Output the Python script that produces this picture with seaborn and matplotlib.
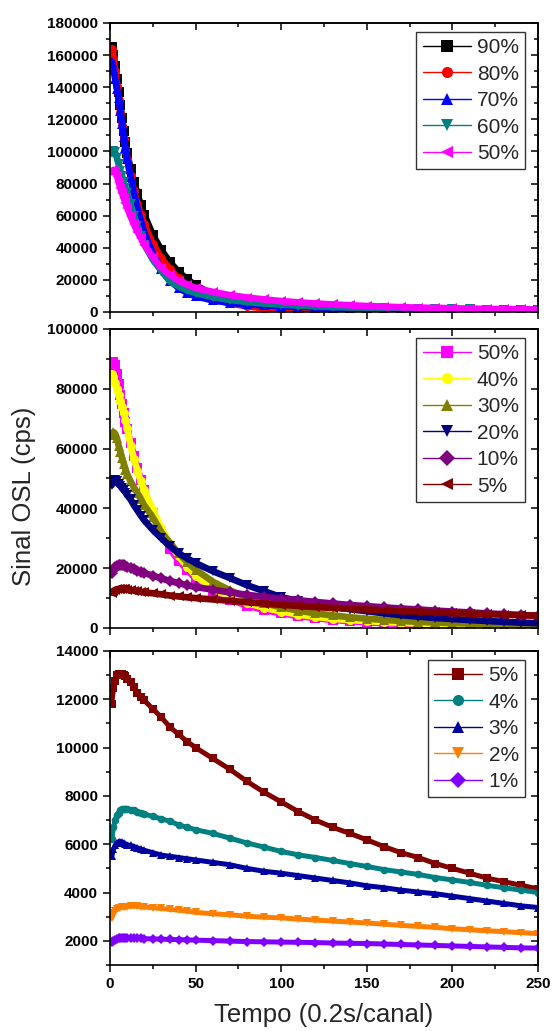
import numpy as np
import pandas as pd
import seaborn as sns
import matplotlib.pyplot as plt
from matplotlib.lines import Line2D
from matplotlib.ticker import MultipleLocator

# channel numbers the curves were read at
CH = [1, 2, 3, 4, 5, 6, 7, 8, 9, 10, 12, 14, 16, 18, 20, 25, 30, 35, 40, 45, 50,
      60, 70, 80, 90, 100, 110, 120, 130, 140, 150, 160, 170, 180, 190, 200,
      210, 220, 230, 240, 250]

# --- top panel: 90% .. 50%
p1_90 = [165000, 160000, 153000, 145000, 137000, 129000, 121000, 113000, 106000, 99000,
         89000, 81000, 73500, 66500, 60500, 48000, 38500, 31000, 25000, 20500, 16500,
         11000, 7500, 5200, 3800, 2900, 2300, 1900, 1700, 1500, 1400, 1300, 1250, 1200,
         1150, 1100, 1100, 1050, 1050, 1000, 1000]
p1_80 = [164000, 158000, 150000, 141000, 132000, 124000, 116000, 108000, 101000, 95000,
         84500, 75500, 67500, 60500, 54500, 42500, 33500, 26500, 21000, 16500, 13000,
         8200, 5300, 3500, 2300, 1600, 1100, 900, 750, 700, 650, 650, 650, 650,
         650, 650, 650, 650, 650, 650, 650]
p1_70 = [156000, 151000, 145000, 139000, 133000, 125000, 117000, 109000, 102000, 95500,
         84000, 73500, 64500, 56500, 49500, 36500, 26500, 19500, 15000, 12000, 9800,
         7200, 5700, 4800, 4200, 3700, 3300, 2900, 2600, 2300, 2100, 1900, 1750, 1600,
         1500, 1400, 1350, 1300, 1250, 1200, 1200]
p1_60 = [99000, 100000, 99500, 96000, 92000, 88000, 84500, 81000, 77500, 74000,
         67000, 60000, 53500, 47500, 42000, 32500, 25500, 19000, 16000, 13500, 11800,
         9200, 7500, 6300, 5300, 4600, 4000, 3500, 3100, 2800, 2500, 2300, 2100, 1950,
         1800, 1700, 1600, 1500, 1450, 1400, 1350]
p1_50 = [87000, 88500, 88000, 85000, 81000, 77500, 74000, 71000, 68000, 65000,
         59500, 54500, 50000, 46000, 42000, 34000, 27500, 23000, 19500, 17000, 15000,
         12500, 10500, 9000, 7800, 6800, 6000, 5300, 4700, 4200, 3700, 3300, 3000, 2700,
         2500, 2300, 2100, 1900, 1800, 1650, 1500]

# --- middle panel: 50% .. 5%
p2_50 = [87000, 89000, 88000, 85000, 81500, 78000, 75000, 72000, 69000, 66500,
         62000, 57500, 53500, 49500, 46000, 38500, 32000, 26500, 22500, 19500, 16500,
         12500, 9500, 7500, 6000, 4900, 4000, 3300, 2700, 2300, 1900, 1600, 1400, 1200,
         1050, 950, 850, 800, 750, 700, 650]
p2_40 = [85000, 84000, 82000, 80000, 78000, 76000, 74000, 72000, 69500, 67000,
         61000, 56500, 52500, 49000, 46000, 39500, 33500, 28000, 24000, 20500, 17500,
         13000, 10300, 8300, 6800, 5500, 4500, 3700, 3100, 2700, 2300, 2000, 1700, 1500,
         1300, 1150, 1050, 950, 900, 850, 800]
p2_30 = [64500, 65500, 65000, 63500, 61000, 59000, 57000, 55000, 53000, 51500,
         49000, 47000, 45000, 43000, 41000, 37000, 32000, 28500, 25000, 22000, 19500,
         15500, 12600, 10200, 8300, 6900, 5800, 4900, 4200, 3600, 3100, 2700, 2350, 2050,
         1850, 1650, 1500, 1350, 1250, 1150, 1050]
p2_20 = [47800, 49000, 49500, 49000, 48000, 47500, 46800, 46000, 45300, 44500,
         43000, 41000, 39300, 37600, 36000, 32800, 30000, 27300, 25000, 23300, 21700,
         19000, 16700, 14300, 12300, 10300, 9000, 8000, 7100, 6300, 5600, 4900, 4300, 3800,
         3350, 3000, 2650, 2350, 2050, 1800, 1600]
p2_10 = [18300, 19500, 20300, 20700, 20900, 21000, 21000, 20900, 20700, 20500,
         20200, 19700, 19200, 18800, 18400, 17500, 16600, 15700, 15000, 14300, 13700,
         12800, 11900, 11100, 10400, 9800, 9300, 8700, 8200, 7700, 7300, 6900, 6500, 6200,
         5800, 5500, 5200, 4900, 4600, 4300, 4100]

# --- bottom panel: 5% .. 1%
p3_5 = [11800, 12450, 12750, 13000, 13050, 13050, 13050, 13000, 12950, 12850,
        12700, 12500, 12250, 12100, 11950, 11600, 11250, 10850, 10550, 10250, 10000,
        9550, 9100, 8600, 8150, 7750, 7350, 7000, 6700, 6450, 6180, 5900, 5650, 5450,
        5200, 5000, 4800, 4600, 4450, 4300, 4150]
p3_4 = [6200, 6700, 7000, 7200, 7300, 7400, 7450, 7450, 7450, 7450,
        7420, 7400, 7350, 7300, 7250, 7150, 7050, 6950, 6800, 6700, 6600,
        6450, 6250, 6050, 5880, 5700, 5560, 5450, 5330, 5200, 5080, 4950, 4850, 4750,
        4620, 4520, 4420, 4300, 4200, 4100, 4000]
p3_3 = [5500, 5800, 5950, 6050, 6100, 6100, 6080, 6050, 6000, 5980,
        5950, 5900, 5850, 5800, 5750, 5650, 5550, 5500, 5450, 5400, 5350,
        5250, 5150, 5000, 4880, 4800, 4700, 4600, 4500, 4400, 4280, 4200, 4100, 4020,
        3950, 3850, 3750, 3650, 3550, 3450, 3380]
p3_2 = [2950, 3150, 3250, 3300, 3350, 3380, 3400, 3400, 3420, 3420,
        3430, 3440, 3430, 3420, 3400, 3370, 3340, 3300, 3270, 3230, 3180,
        3120, 3080, 3020, 2980, 2950, 2900, 2860, 2820, 2780, 2740, 2690, 2640, 2600,
        2560, 2500, 2460, 2420, 2380, 2340, 2300]
p3_1 = [1950, 2000, 2050, 2080, 2100, 2110, 2120, 2130, 2130, 2130,
        2120, 2110, 2100, 2100, 2090, 2080, 2070, 2060, 2050, 2040, 2030,
        2010, 1990, 1970, 1960, 1950, 1940, 1930, 1910, 1900, 1890, 1870, 1850, 1830,
        1810, 1790, 1770, 1750, 1730, 1710, 1700]

panels = [
    {"series": [("90%", p1_90, "#000000", "s"), ("80%", p1_80, "#FF0000", "o"),
                ("70%", p1_70, "#0000FF", "^"), ("60%", p1_60, "#008080", "v"),
                ("50%", p1_50, "#FF00FF", "<")],
     "ylim": (0, 180000), "major": 20000, "minor": 10000,
     "rect": [0.199, 0.6974, 0.774, 0.2803]},
    {"series": [("50%", p2_50, "#FF00FF", "s"), ("40%", p2_40, "#FFFF00", "o"),
                ("30%", p2_30, "#808000", "^"), ("20%", p2_20, "#000080", "v"),
                ("10%", p2_10, "#800080", "D"), ("5%", p3_5, "#800000", "<")],
     "ylim": (0, 100000), "major": 20000, "minor": 10000,
     "rect": [0.199, 0.3909, 0.774, 0.2900]},
    {"series": [("5%", p3_5, "#800000", "s"), ("4%", p3_4, "#008080", "o"),
                ("3%", p3_3, "#0000A0", "^"), ("2%", p3_2, "#FF8000", "v"),
                ("1%", p3_1, "#8000FF", "D")],
     "ylim": (1000, 14000), "major": 2000, "minor": 1000,
     "rect": [0.199, 0.0640, 0.774, 0.3046]},
]

sns.set_theme(style="ticks")
plt.rcParams["font.family"] = ["Liberation Sans", "DejaVu Sans"]

fig = plt.figure(figsize=(5.53, 10.31), dpi=100)

for i, p in enumerate(panels):
    ax = fig.add_axes(p["rect"])
    handles = []
    for lab, vals, col, mk in p["series"]:
        sns.lineplot(x=CH, y=vals, ax=ax, color=col, marker=mk,
                     markersize=6.5 if i < 2 else 5.5, markeredgewidth=0,
                     linewidth=4.8 if i < 2 else 3.6)
        handles.append(Line2D([], [], color=col, marker=mk, lw=1, ms=8,
                              markeredgewidth=0))
    ax.set_xlim(0, 250)
    ax.set_ylim(*p["ylim"])
    ax.xaxis.set_major_locator(MultipleLocator(50))
    ax.xaxis.set_minor_locator(MultipleLocator(25))
    ax.yaxis.set_major_locator(MultipleLocator(p["major"]))
    ax.yaxis.set_minor_locator(MultipleLocator(p["minor"]))
    ax.tick_params(which="both", direction="out", colors="black", width=1.1,
                   labelsize=11, top=False, right=False)
    ax.tick_params(which="major", length=5)
    ax.tick_params(which="minor", length=3)
    if i < 2:
        ax.tick_params(axis="x", labelbottom=False)
    for s in ax.spines.values():
        s.set_color("black")
        s.set_linewidth(1.2)

    # top and right ticks point inwards
    top = ax.secondary_xaxis("top")
    top.xaxis.set_major_locator(MultipleLocator(50))
    top.xaxis.set_minor_locator(MultipleLocator(25))
    top.tick_params(which="both", direction="in", labeltop=False, width=1.1, colors="black")
    top.tick_params(which="major", length=5)
    top.tick_params(which="minor", length=3)
    right = ax.secondary_yaxis("right")
    right.yaxis.set_major_locator(MultipleLocator(p["major"]))
    right.yaxis.set_minor_locator(MultipleLocator(p["minor"]))
    right.tick_params(which="both", direction="in", labelright=False, width=1.1, colors="black")
    right.tick_params(which="major", length=5)
    right.tick_params(which="minor", length=3)

    ax.set_xlabel("")
    ax.set_ylabel("")
    plt.setp(ax.get_yticklabels(), fontweight="bold")
    plt.setp(ax.get_xticklabels(), fontweight="bold")

    # legend box sits ~13 px from the right spine and ~9 px below the top one
    w_px = p["rect"][2] * 553
    h_px = p["rect"][3] * 1031
    leg = ax.legend(handles, [s[0] for s in p["series"]], loc="upper right",
                    bbox_to_anchor=(1 - 13 / w_px, 1 - 9 / h_px),
                    fontsize=15, frameon=True, fancybox=False, handlelength=2.3,
                    handletextpad=0.3, labelspacing=0.36, borderpad=0.3,
                    borderaxespad=0)
    leg.get_frame().set_edgecolor("black")
    leg.get_frame().set_linewidth(1.0)

fig.text(0.043, 1 - 496 / 1031, "Sinal OSL (cps)", rotation=90, fontsize=18.5,
         ha="center", va="center")
fig.text(0.586, 1 - 1015 / 1031, "Tempo (0.2s/canal)", fontsize=18.5,
         ha="center", va="center")

fig.savefig("out.png", dpi=100)
